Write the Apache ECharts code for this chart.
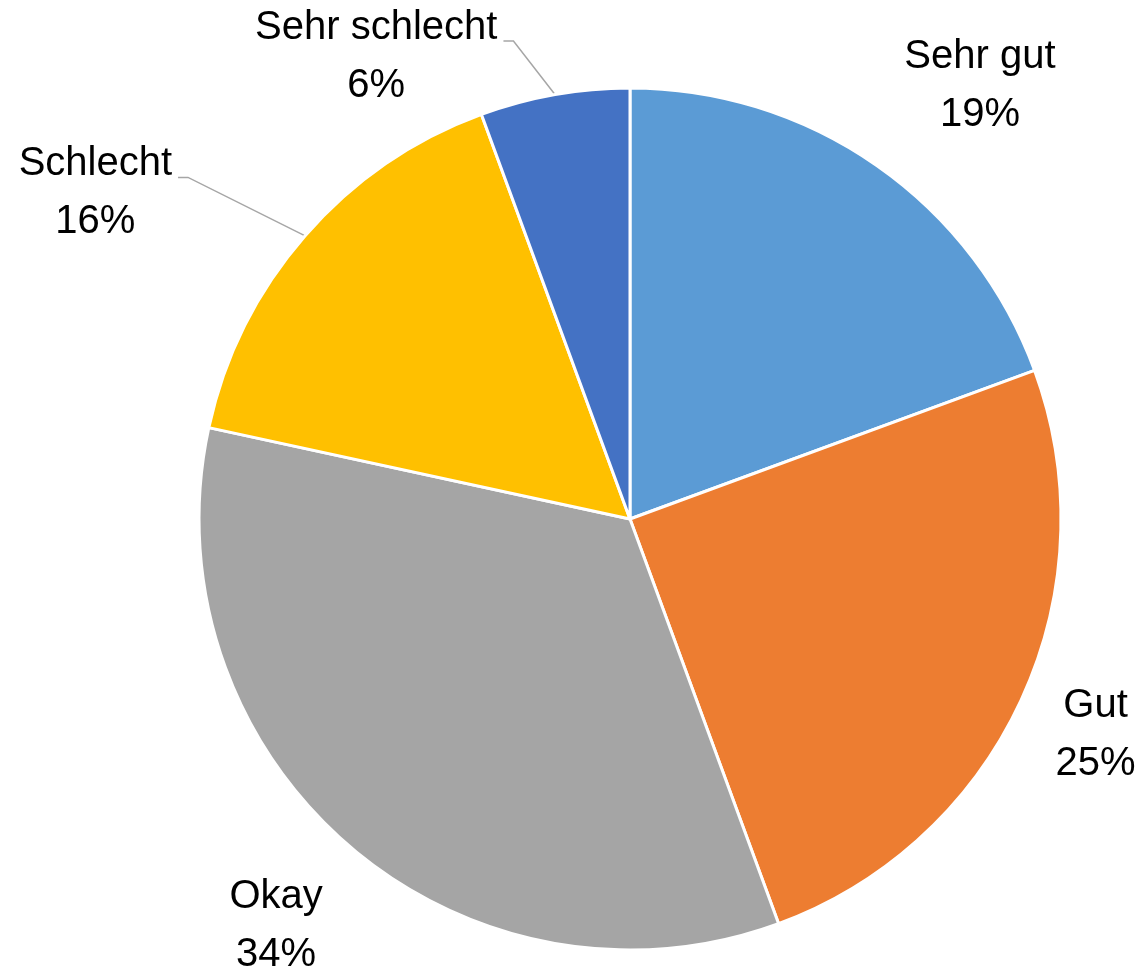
<!DOCTYPE html>
<html>
<head>
<meta charset="utf-8">
<script src="https://cdn.jsdelivr.net/npm/echarts@6/dist/echarts.min.js"></script>
<style>
    html, body { margin: 0; padding: 0; background: #fff; }
    #mainPie { width: 1136px; height: 972px; }
</style>
</head>
<body>
<div id="mainPie"></div>
<script>
// Daten
var names = ['Sehr gut', 'Gut', 'Okay', 'Schlecht', 'Sehr schlecht'];
var values = [19.4, 25.0, 34.0, 16.0, 5.6];
var colors = ['#5B9BD5', '#ED7D31', '#A5A5A5', '#FFC000', '#4472C4'];

// Kreis-Geometrie (Pixel)
var cx = 630, cy = 519, R = 431;
// Label-Platzierung: Abstand außerhalb des Kreises, Winkelversatz, Führungslinie
var labelPlace = [
    {extra: 126, nudge: 4, line: false},
    {extra: 82, nudge: 0, line: false},
    {extra: 108, nudge: 0, line: false},
    {extra: 195, nudge: -9.7, line: true},
    {extra: 96, nudge: -18.7, line: true}
];

var total = values.reduce(function (a, b) { return a + b; }, 0);
var midAngles = [];
var acc = 0;
values.forEach(function (v) {
    midAngles.push((acc + v / 2) / total * 360);
    acc += v;
});

var myChart = echarts.init(document.getElementById('mainPie'));

var option = {
    backgroundColor: '#ffffff',
    animation: false,
    series: [{
        type: 'pie',
        center: [cx, cy],
        radius: R,
        startAngle: 90,
        clockwise: true,
        avoidLabelOverlap: false,
        itemStyle: {
            borderColor: '#ffffff',
            borderWidth: 3
        },
        label: {
            show: true,
            position: 'outside',
            fontFamily: 'Liberation Sans',
            fontSize: 40,
            lineHeight: 58,
            color: '#000000',
            formatter: function (p) {
                return p.name + '\n' + Math.round(p.value / total * 100) + '%';
            }
        },
        labelLine: {
            show: true,
            lineStyle: { color: '#A6A6A6', width: 1.5 }
        },
        labelLayout: function (params) {
            var i = params.dataIndex;
            var p = labelPlace[i];
            var a = (midAngles[i] + p.nudge) * Math.PI / 180;
            var x = cx + (R + p.extra) * Math.sin(a);
            var y = cy - (R + p.extra) * Math.cos(a);
            var res = {x: x, y: y, align: 'center', verticalAlign: 'middle'};
            if (p.line) {
                var m = midAngles[i] * Math.PI / 180;
                var w = params.labelRect.width;
                var ly = y - 16;
                res.labelLinePoints = [
                    [cx + (R + 1) * Math.sin(m), cy - (R + 1) * Math.cos(m)],
                    [x + w / 2 + 16, ly],
                    [x + w / 2 + 6, ly]
                ];
            }
            return res;
        },
        data: names.map(function (n, i) {
            return {
                name: n,
                value: values[i],
                itemStyle: { color: colors[i] },
                labelLine: { show: labelPlace[i].line }
            };
        })
    }]
};
myChart.setOption(option);
</script>
</body>
</html>
